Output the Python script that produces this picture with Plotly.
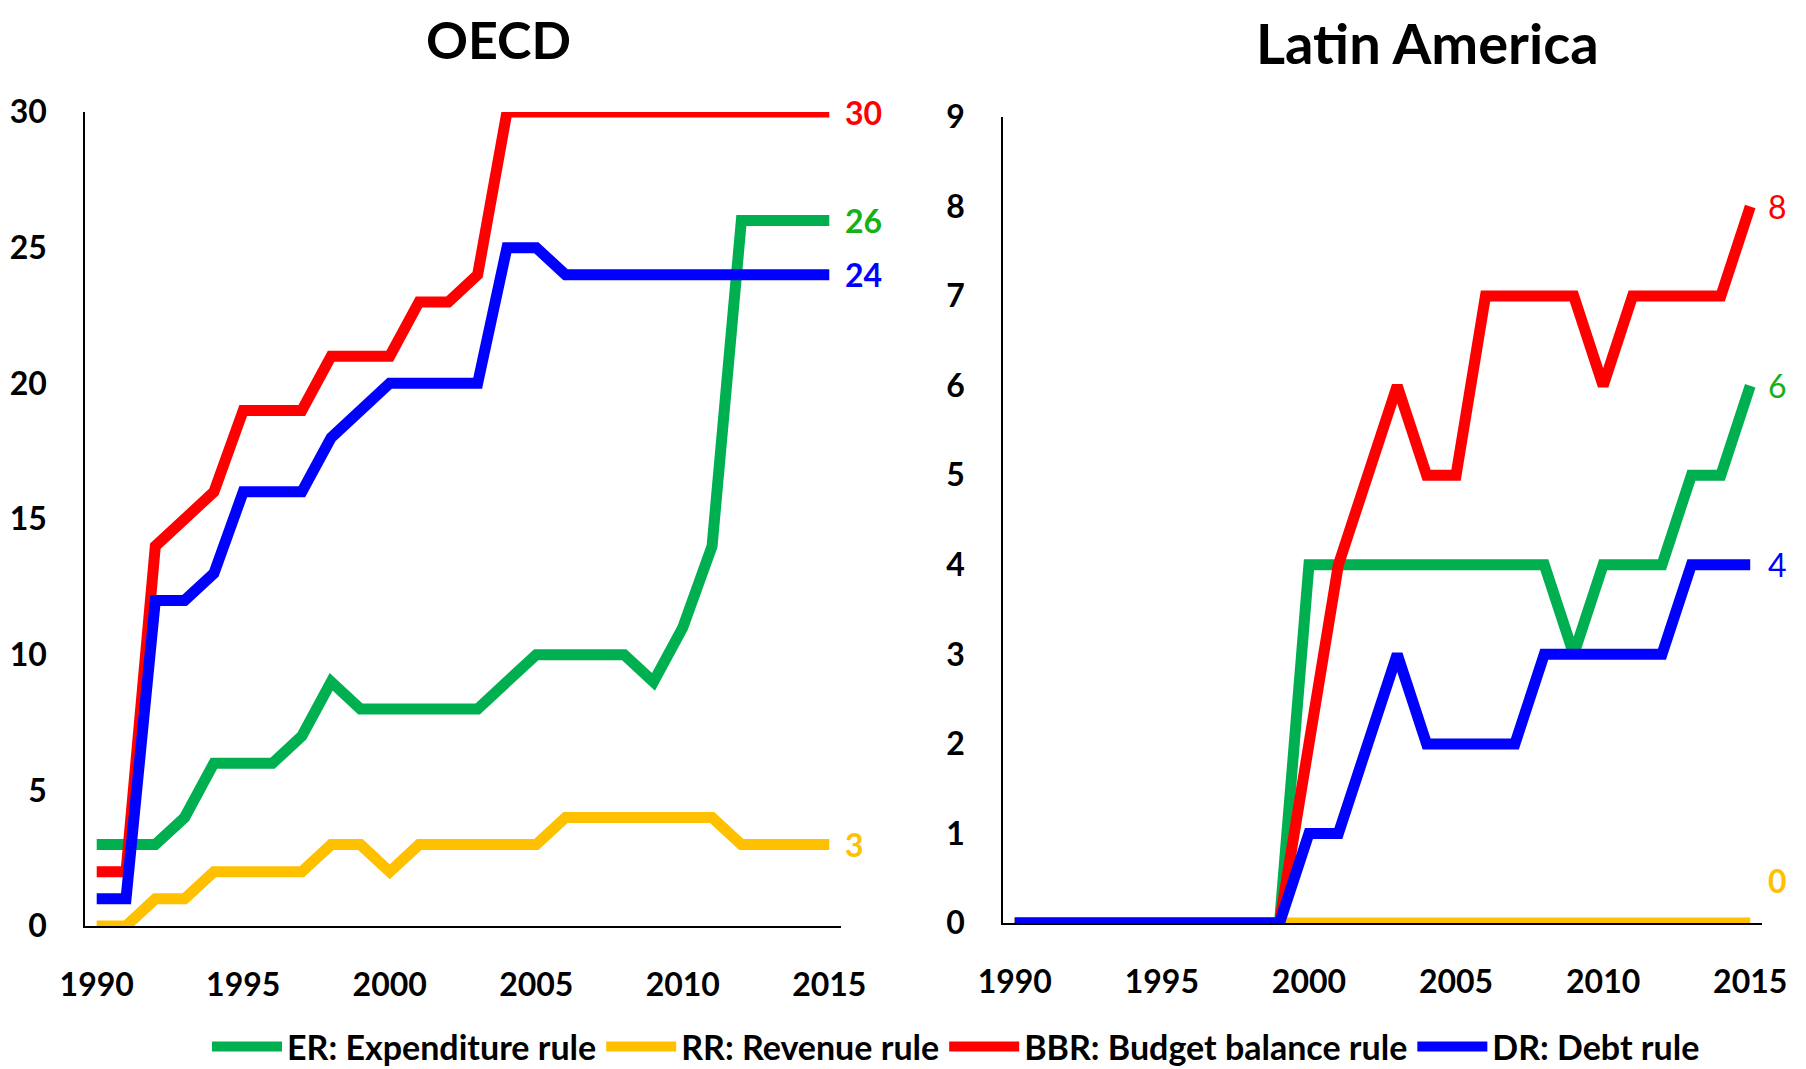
import plotly.graph_objects as go

years = list(range(1990, 2016))

# OECD
oecd_er = [3, 3, 3, 4, 6, 6, 6, 7, 9, 8, 8, 8, 8, 8, 9, 10, 10, 10, 10, 9, 11, 14, 26, 26, 26, 26]
oecd_rr = [0, 0, 1, 1, 2, 2, 2, 2, 3, 3, 2, 3, 3, 3, 3, 3, 4, 4, 4, 4, 4, 4, 3, 3, 3, 3]
oecd_bbr = [2, 2, 14, 15, 16, 19, 19, 19, 21, 21, 21, 23, 23, 24, 30, 30, 30, 30, 30, 30, 30, 30, 30, 30, 30, 30]
oecd_dr = [1, 1, 12, 12, 13, 16, 16, 16, 18, 19, 20, 20, 20, 20, 25, 25, 24, 24, 24, 24, 24, 24, 24, 24, 24, 24]

# Latin America
la_er = [0, 0, 0, 0, 0, 0, 0, 0, 0, 0, 4, 4, 4, 4, 4, 4, 4, 4, 4, 3, 4, 4, 4, 5, 5, 6]
la_rr = [0] * 26
la_bbr = [0, 0, 0, 0, 0, 0, 0, 0, 0, 0, 2, 4, 5, 6, 5, 5, 7, 7, 7, 7, 6, 7, 7, 7, 7, 8]
la_dr = [0, 0, 0, 0, 0, 0, 0, 0, 0, 0, 1, 1, 2, 3, 2, 2, 2, 2, 3, 3, 3, 3, 3, 4, 4, 4]

series_names = ["ER: Expenditure rule", "RR: Revenue rule", "BBR: Budget balance rule", "DR: Debt rule"]
line_colors = ["#00B050", "#FFC000", "#FF0000", "#0000FF"]
label_colors = ["#17B117", "#FFC000", "#FF0000", "#0000FF"]
x_ticks = [1990, 1995, 2000, 2005, 2010, 2015]

FONT = "Lato"
OFF = 8                      # browser default body margin
W, H = 1806 - OFF, 1069 - OFF


def px(x):
    return (x - OFF) / W


def py(y):
    return 1 - (y - OFF) / H


fig = go.Figure()

oecd = [oecd_er, oecd_rr, oecd_bbr, oecd_dr]
la = [la_er, la_rr, la_bbr, la_dr]

for i, (name, col) in enumerate(zip(series_names, line_colors)):
    fig.add_trace(go.Scatter(x=years, y=oecd[i], mode="lines", name=name,
                             line=dict(color=col, width=11), cliponaxis=False,
                             xaxis="x", yaxis="y", legendgroup=name, showlegend=True))
for i, (name, col) in enumerate(zip(series_names, line_colors)):
    fig.add_trace(go.Scatter(x=years, y=la[i], mode="lines", name=name,
                             line=dict(color=col, width=11), cliponaxis=False,
                             xaxis="x2", yaxis="y2", legendgroup=name, showlegend=False))

annotations = []
for i in range(4):
    annotations.append(dict(x=years[-1], y=oecd[i][-1], xref="x", yref="y",
                            text=str(oecd[i][-1]), showarrow=False, xanchor="left",
                            xshift=14, font=dict(family=FONT, size=32, color=label_colors[i], weight="bold")))
for i in range(4):
    v = la[i][-1]
    bold = (i == 1)
    annotations.append(dict(x=years[-1], y=v, xref="x2", yref="y2",
                            text=str(v), showarrow=False, xanchor="left",
                            xshift=16, yshift=(43 if i == 1 else 0),
                            font=dict(family=FONT, size=32, color=label_colors[i],
                                      weight=("bold" if bold else "normal"))))

annotations.append(dict(x=px(498), y=py(39), xref="paper", yref="paper", text="OECD",
                        showarrow=False, xanchor="center", yanchor="middle", borderpad=0,
                        font=dict(family=FONT, size=52, color="black", weight="bold")))
annotations.append(dict(x=px(1427), y=py(43), xref="paper", yref="paper", text="Latin America",
                        showarrow=False, xanchor="center", yanchor="middle", borderpad=0,
                        font=dict(family=FONT, size=56, color="black", weight="bold")))

tickfont = dict(family=FONT, size=32, color="black", weight="bold")

xa = dict(range=[1989.6, 2015.4], tickvals=x_ticks, showgrid=False, zeroline=False,
          showline=True, linecolor="black", linewidth=2, ticks="", tickfont=tickfont,
          ticklabelstandoff=30, fixedrange=True)
ya = dict(showgrid=False, zeroline=False, showline=True, linecolor="black", linewidth=1.5,
          ticks="", tickfont=tickfont, ticklabelstandoff=30, fixedrange=True)

fig.update_layout(
    width=W, height=H,
    margin=dict(l=0, r=0, t=0, b=0, autoexpand=False),
    paper_bgcolor="white", plot_bgcolor="white",
    xaxis=dict(xa, domain=[px(85), px(841)], anchor="y"),
    yaxis=dict(ya, domain=[py(926), py(112)], range=[0, 30],
               tickvals=[0, 5, 10, 15, 20, 25, 30], anchor="x"),
    xaxis2=dict(xa, domain=[px(1003), px(1762)], anchor="y2"),
    yaxis2=dict(ya, domain=[py(923), py(117)], range=[0, 9],
                tickvals=list(range(10)), anchor="x2"),
    legend=dict(orientation="h", x=px(207), xanchor="left", y=py(1047), yanchor="middle",
                font=dict(family=FONT, size=34, color="black", weight="bold"),
                itemwidth=70, bgcolor="rgba(0,0,0,0)"),
    annotations=annotations,
    showlegend=True,
)

fig.write_html("out.html")
